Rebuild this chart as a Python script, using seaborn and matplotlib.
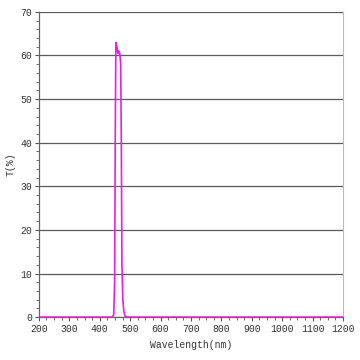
import numpy as np
import pandas as pd
import seaborn as sns
import matplotlib.pyplot as plt
from matplotlib.ticker import MultipleLocator

# transmission curve
wavelength = [200, 440, 446, 449, 451, 453, 455, 457, 460, 463, 466, 469, 471,
              473, 476, 479, 483, 490, 1200]
transmission = [0, 0, 0.5, 8, 40, 63, 61, 62, 60.5, 61, 60.5, 58, 40,
                12, 4, 1.5, 0.3, 0, 0]

df = pd.DataFrame({"wl": wavelength, "T": transmission})

sns.set_theme(style="white")
plt.rcParams['font.family'] = ['Liberation Mono', 'DejaVu Sans Mono']

fig = plt.figure(figsize=(3.6, 3.6), dpi=100)
ax = fig.add_axes([0.108, 0.119, 0.845, 0.848])

sns.lineplot(x="wl", y="T", data=df, ax=ax, color="#e81ee8", linewidth=1.2)

ax.set_xlim(200, 1200)
ax.set_ylim(0, 70)
ax.xaxis.set_major_locator(MultipleLocator(100))
ax.xaxis.set_minor_locator(MultipleLocator(25))
ax.yaxis.set_major_locator(MultipleLocator(10))
ax.yaxis.set_minor_locator(MultipleLocator(2))

ax.grid(axis="y", which="major", color="#5a5a5a", linewidth=0.9)
ax.set_axisbelow(True)

ax.tick_params(which="both", direction="out", colors="#555555", labelsize=7,
               labelcolor="#333333", pad=2)
ax.tick_params(which="major", length=3, width=0.8)
ax.tick_params(which="minor", length=2, width=0.6)
ax.tick_params(axis="x", which="both", bottom=True)
ax.tick_params(axis="y", which="both", left=True)

for side in ["left", "bottom"]:
    ax.spines[side].set_color("#666666")
    ax.spines[side].set_linewidth(0.9)
ax.spines["top"].set_visible(False)
ax.spines["right"].set_color("#bbbbbb")
ax.spines["right"].set_linewidth(0.8)

ax.set_xlabel("Wavelength(nm)", fontsize=7, color="#333333", labelpad=4)
ax.set_ylabel("T(%)", fontsize=7, color="#333333", labelpad=3)

fig.savefig("out.png", dpi=100, facecolor="white")
